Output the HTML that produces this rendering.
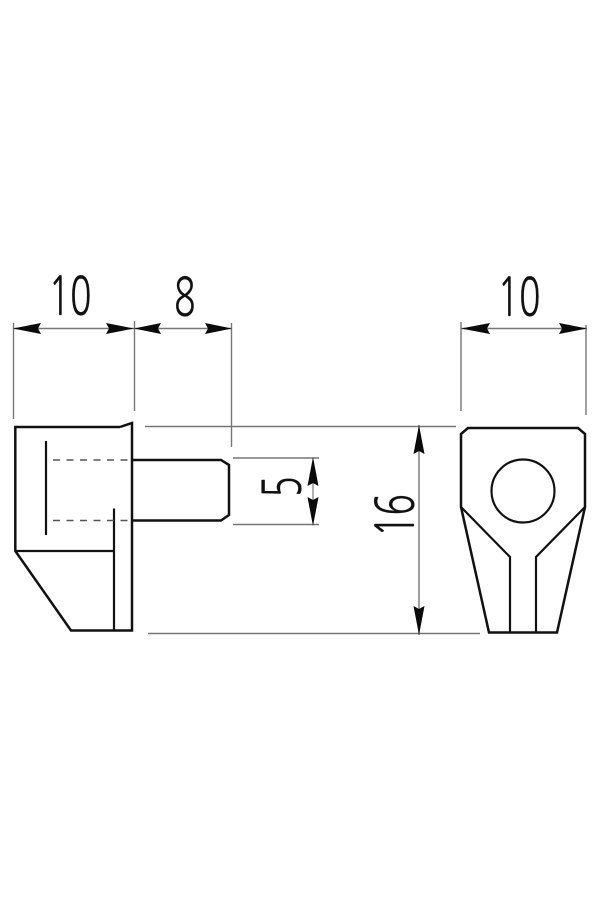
<!DOCTYPE html>
<html><head><meta charset="utf-8"><style>
html,body{margin:0;padding:0;background:#fff;width:600px;height:900px;overflow:hidden}
svg{display:block;filter:blur(.35px)}
.t{font-family:"NanumGothic","Liberation Sans",sans-serif;font-size:53px;fill:#111;stroke:#111;stroke-width:.15px}
</style></head><body>
<svg width="600" height="900" viewBox="0 0 600 900" xmlns="http://www.w3.org/2000/svg">
<rect width="600" height="900" fill="#fff"/>
<!-- extension / dimension lines -->
<g stroke="#777" stroke-width="1.400" fill="none">
<path d="M13.500 323V419M134.500 321V411M231.500 323V447M461 322V411M586 325V415"/>
<path d="M145 426.500H456M233 458H319M233 524.500H319M148 633.500H480"/>
<path d="M13 328.500H231M461 328.500H587M419 425V635"/>
</g>
<path d="M313 470V512" stroke="#777" stroke-width="1.200" fill="none"/>
<!-- arrowheads -->
<g fill="#0a0a0a">
<path d="M13 328.500L41 323L38 328.500L41 334Z"/>
<path d="M134 328.500L106 323L109 328.500L106 334Z"/>
<path d="M134 328.500L161 323L158 328.500L161 334Z"/>
<path d="M232 328.500L205 323L208 328.500L205 334Z"/>
<path d="M461 328.500L490 323L487 328.500L490 334Z"/>
<path d="M587 328.500L559 323L562 328.500L559 334Z"/>
<path d="M419 425L413.500 454L419 451L424.500 454Z"/>
<path d="M419 635L413.500 606L419 609L424.500 606Z"/>
<path d="M313 457L307.500 486L313 483L318.500 486Z"/>
<path d="M313 526L307.500 497L313 500L318.500 497Z"/>
<path d="M309 475L313 471L317 475L313 473Z M309 507L313 511L317 507L313 509Z"/>
</g>
<!-- left part -->
<g stroke="#111" fill="none" stroke-linejoin="miter">
<path stroke-width="2.500" d="M120 427H15.300V551L71 630.500H132V423L120 427"/>
<path stroke-width="2.200" d="M15.300 551H114M114 508.500V630.500M46 441V535"/>
<path stroke-width="2.500" d="M132 460H221L229 465V515L221 520.500H132"/>
<path stroke="#555" stroke-width="1.600" stroke-dasharray="7 6.500" d="M53 460H130M53 520.500H130"/>
</g>
<!-- right part -->
<g stroke="#111" fill="none" stroke-width="2.500" stroke-linejoin="miter">
<path d="M468 428H578L585 434V507L557 632.500H489L461 507V434Z"/>
<path d="M461 507L510 557V632.500M585 507L536 557V632.500" stroke-width="2.200"/>
<circle cx="523" cy="491" r="31.500" stroke-width="2.200"/>
</g>
<!-- labels -->
<text class="t" transform="translate(48.500 315) scale(.67 1)">10</text>
<text class="t" transform="translate(497.500 316) scale(.67 1)">10</text>
<text class="t" transform="translate(174 316) scale(.67 1)">8</text>
<text class="t" transform="translate(301 497.500) rotate(-90) scale(.67 1)">5</text>
<text class="t" transform="translate(414 537) rotate(-90) scale(.67 1)">16</text>
</svg>
</body></html>
